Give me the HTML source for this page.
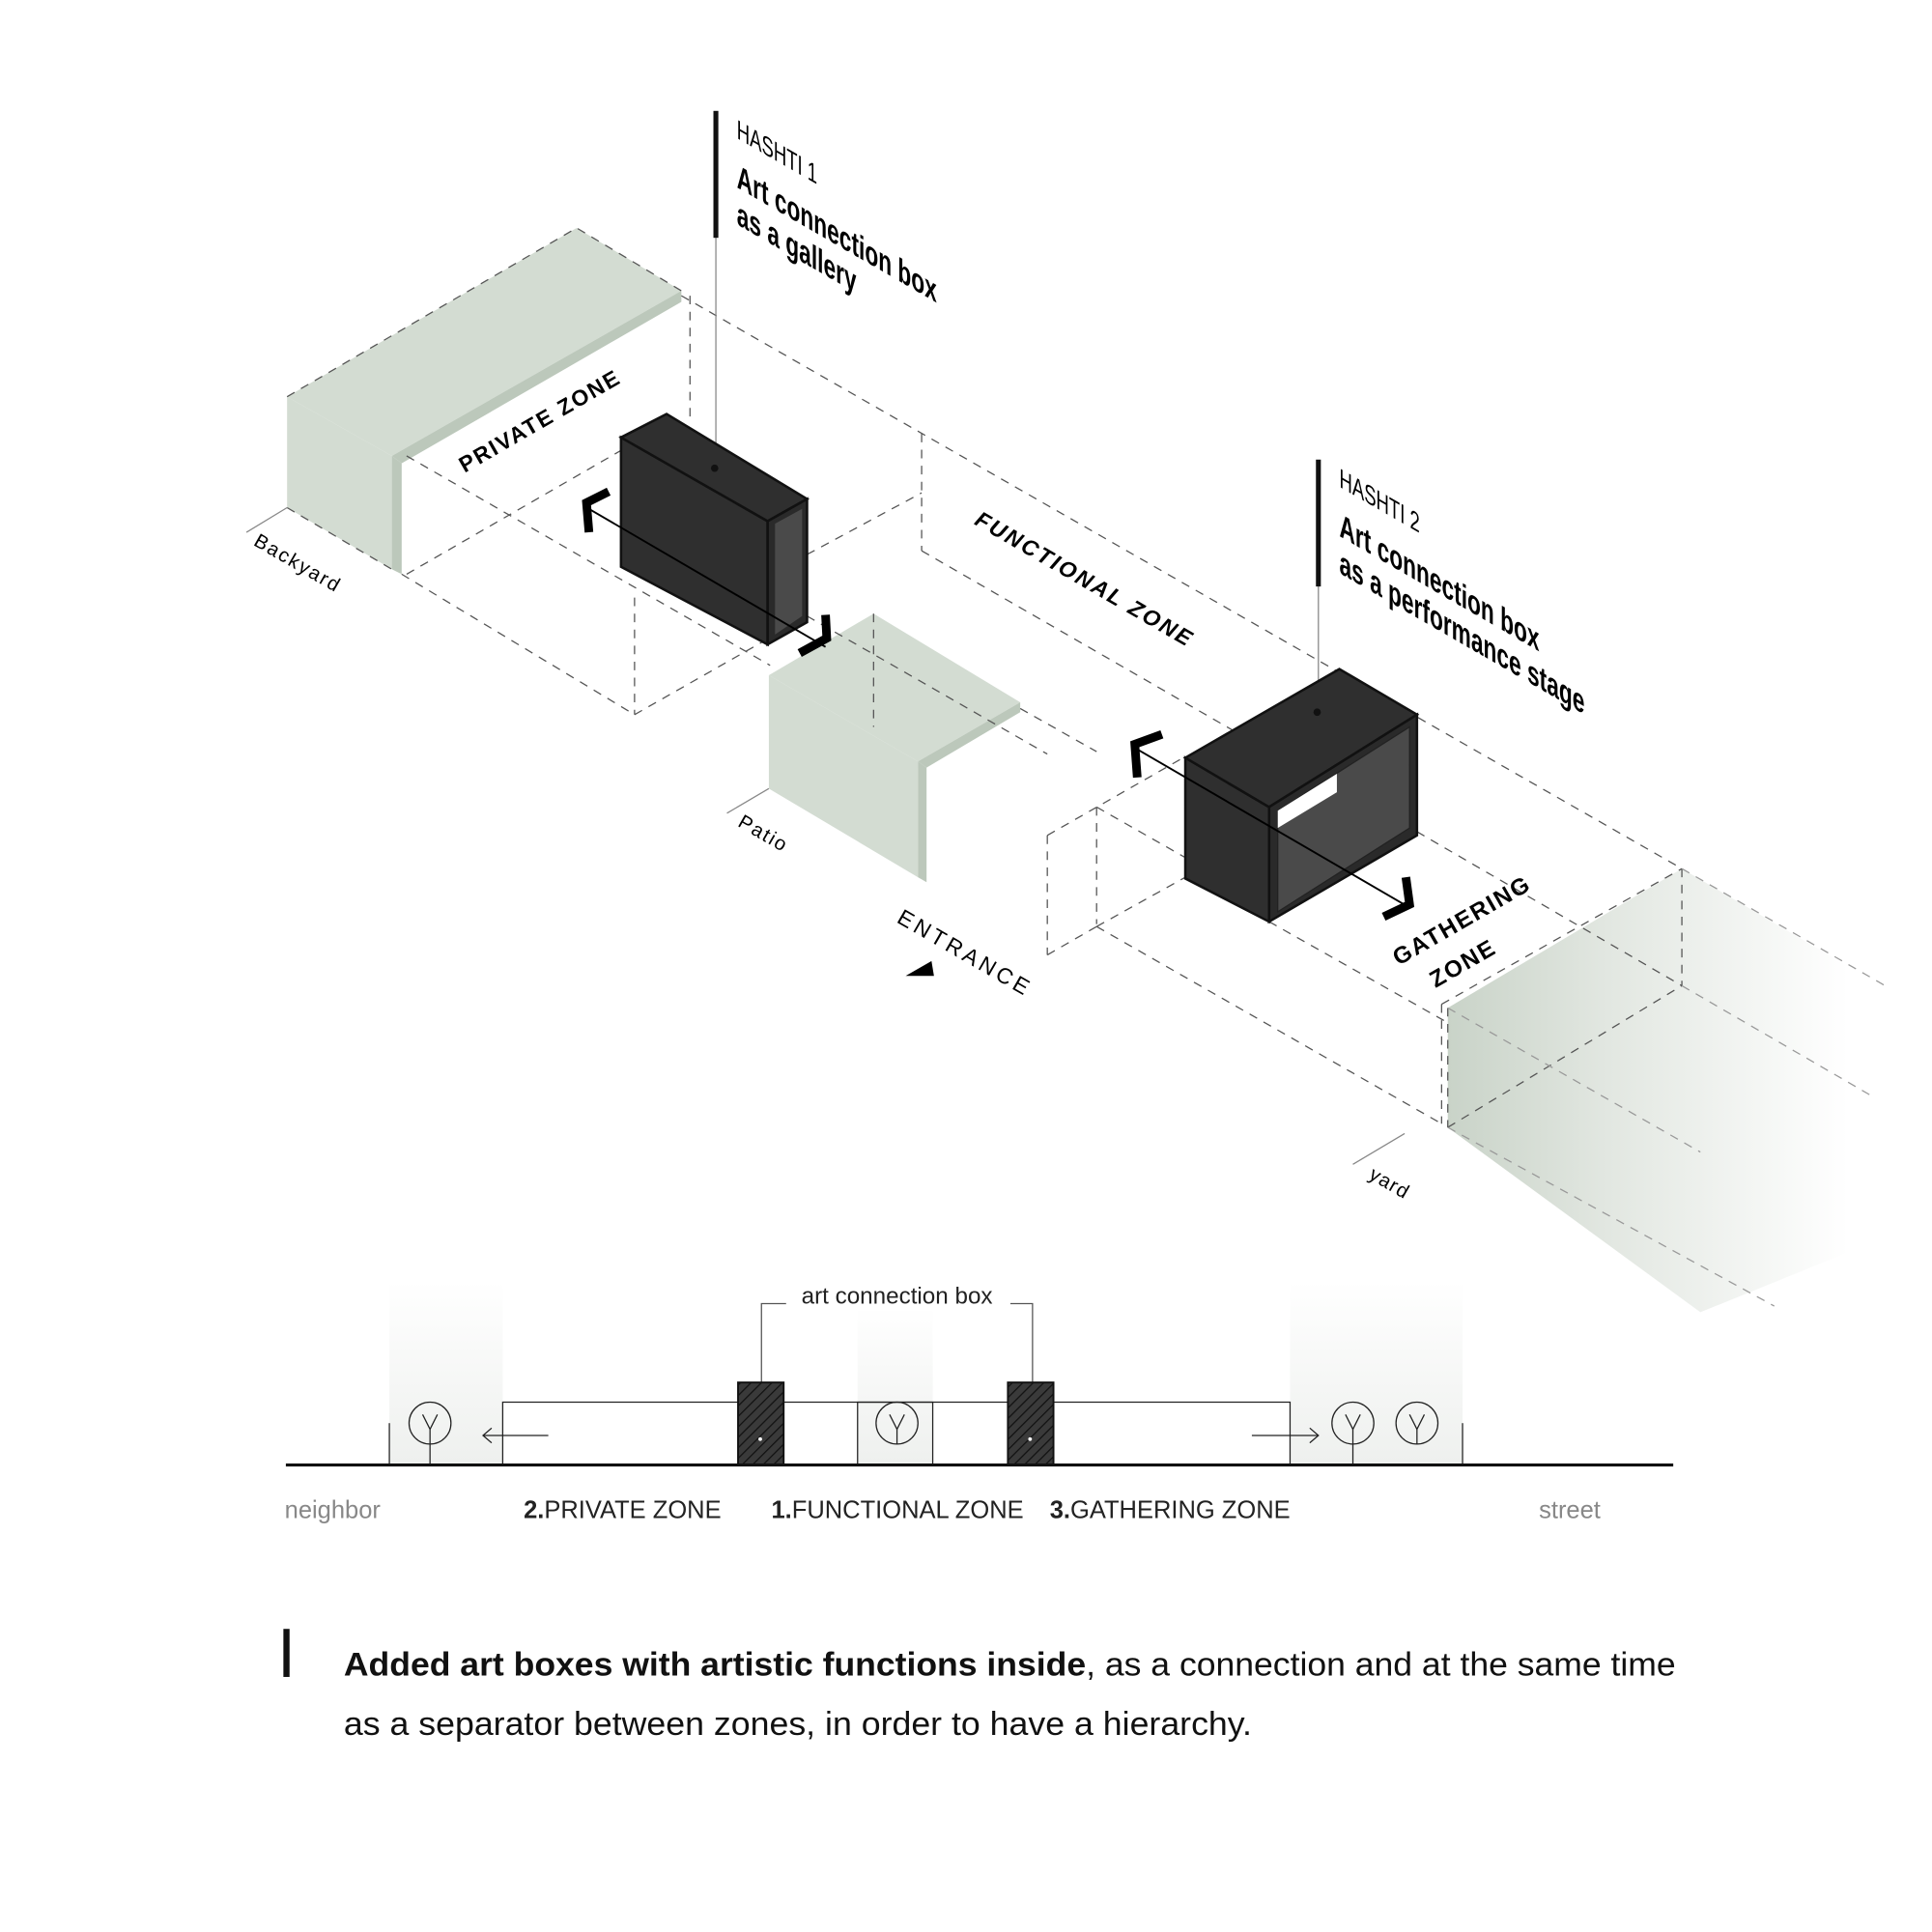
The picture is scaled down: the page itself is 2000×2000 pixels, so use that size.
<!DOCTYPE html>
<html><head><meta charset="utf-8"><style>
html,body{margin:0;padding:0;background:#fff;}
svg{display:block;}
text{font-family:"Liberation Sans",sans-serif;}
</style></head><body>
<svg width="2000" height="2000" viewBox="0 0 1568 1568" xmlns="http://www.w3.org/2000/svg">
<defs>
<linearGradient id="yg" x1="1175" y1="0" x2="1500" y2="0" gradientUnits="userSpaceOnUse">
<stop offset="0" stop-color="#c9d3c8"/><stop offset="0.4" stop-color="#e2e7e1"/><stop offset="1" stop-color="#ffffff"/></linearGradient>
<linearGradient id="cg" x1="0" y1="1" x2="0" y2="0"><stop offset="0" stop-color="#eef0ee"/><stop offset="1" stop-color="#ffffff"/></linearGradient>
<pattern id="hat" width="6" height="6" patternUnits="userSpaceOnUse" patternTransform="rotate(45)"><rect width="6" height="6" fill="#3a3a3a"/><line x1="0" y1="0" x2="0" y2="6" stroke="#111" stroke-width="2"/></pattern>
</defs>
<rect width="1568" height="1568" fill="#fff"/>

<polygon points="1175,818 1365,705 1540,808 1540,1000 1380,1065 1175,915" fill="url(#yg)"/>

<polygon points="233,322 468,185 553,236 318,370" fill="#d3dcd2"/>
<polygon points="318,370 553,236 553,245 326,376" fill="#bcc8bb"/>
<polygon points="233,322 318,370 318,462 233,412" fill="#d3dcd2"/>
<polygon points="318,370 326,376 326,466 318,462" fill="#bcc8bb"/>
<polygon points="624,548 709,498 828,570 745,618" fill="#d3dcd2"/>
<polygon points="745,618 828,570 828,578 752,623" fill="#bcc8bb"/>
<polygon points="624,548 745,618 745,712 624,640" fill="#d3dcd2"/>
<polygon points="745,618 752,623 752,716 745,712" fill="#bcc8bb"/>

<g stroke="#555" stroke-width="1" stroke-dasharray="7,6" fill="none">
<polyline points="233,322 468,185 553,236"/>
<line x1="233" y1="412" x2="318" y2="462"/>
<line x1="553" y1="240" x2="1365" y2="705"/>
<line x1="330" y1="370" x2="625" y2="540"/>
<line x1="326" y1="466" x2="515" y2="580"/>
<line x1="515" y1="580" x2="624" y2="518"/>
<line x1="330" y1="466" x2="505" y2="365"/>
<line x1="560" y1="240" x2="560" y2="340"/>
<line x1="748" y1="352" x2="748" y2="447"/>
<line x1="515" y1="485" x2="515" y2="580"/>
<line x1="709" y1="498" x2="709" y2="590"/>
<line x1="655" y1="450" x2="748" y2="400"/>
<line x1="748" y1="447" x2="1060" y2="627"/>
<line x1="655" y1="500" x2="850" y2="612"/>
<line x1="828" y1="575" x2="890" y2="610"/>
<line x1="850" y1="678" x2="850" y2="775"/>
<line x1="890" y1="655" x2="890" y2="750"/>
<line x1="850" y1="678" x2="962" y2="614"/>
<line x1="850" y1="775" x2="890" y2="752"/>
<line x1="890" y1="752" x2="962" y2="712"/>
<line x1="890" y1="752" x2="1170" y2="912"/>
<line x1="890" y1="655" x2="962" y2="696"/>
<line x1="1150" y1="675" x2="1365" y2="800"/>
<line x1="1170" y1="815" x2="1365" y2="705"/>
<line x1="1170" y1="815" x2="1170" y2="912"/>
<line x1="1175" y1="915" x2="1365" y2="800"/>
<line x1="1365" y1="705" x2="1365" y2="800"/>
<line x1="1175" y1="818" x2="1175" y2="915"/>
<line x1="1030" y1="748" x2="1175" y2="830"/>
</g>
<g stroke="#999" stroke-width="1" stroke-dasharray="7,6" fill="none">
<line x1="1365" y1="705" x2="1530" y2="800"/>
<line x1="1365" y1="800" x2="1520" y2="890"/>
<line x1="1175" y1="915" x2="1440" y2="1060"/>
<line x1="1175" y1="818" x2="1380" y2="935"/>
</g>
<g stroke="#888" stroke-width="1">
<line x1="200" y1="432" x2="233" y2="412"/>
<line x1="590" y1="660" x2="624" y2="640"/>
<line x1="1098" y1="945" x2="1140" y2="920"/>
<line x1="581" y1="192" x2="581" y2="380"/>
<line x1="1070" y1="475" x2="1070" y2="578"/>
</g>

<polygon points="504,355 623,423 623,523 504,460" fill="#2f2f2f" stroke="#111" stroke-width="2"/>
<polygon points="504,355 541,336 655,405 623,423" fill="#2f2f2f" stroke="#111" stroke-width="2"/>
<polygon points="623,423 655,405 655,505 623,523" fill="#2a2a2a" stroke="#111" stroke-width="2"/>
<polygon points="629,425 651,413 651,500 629,515" fill="#4a4a4a"/>
<circle cx="580" cy="380" r="3" fill="#111"/>
<polygon points="962,615 1030,655 1030,748 962,713" fill="#2f2f2f" stroke="#111" stroke-width="2"/>
<polygon points="962,615 1087,543 1150,580 1030,655" fill="#2f2f2f" stroke="#111" stroke-width="2"/>
<polygon points="1030,655 1150,580 1150,678 1030,748" fill="#2a2a2a" stroke="#111" stroke-width="2"/>
<polygon points="1037,658 1144,590 1144,672 1037,740" fill="#4a4a4a" stroke="#222"/>
<polygon points="1037,658 1085,628 1085,643 1037,672" fill="#fff"/>
<circle cx="1069" cy="578" r="3" fill="#111"/>

<g stroke="#000" fill="none">
<line x1="478" y1="413" x2="670" y2="525" stroke-width="1.5"/>
<polyline points="494,399 476,408 478,432" stroke-width="7"/>
<polyline points="649,530 671,518 670,499" stroke-width="7"/>
<line x1="921" y1="607" x2="1143" y2="736" stroke-width="1.5"/>
<polyline points="943,596 921,604 923,631" stroke-width="7"/>
<polyline points="1123,744 1144,734 1141,712" stroke-width="7"/>
</g>
<polygon points="735,792 758,792 756,780" fill="#000"/>

<text transform="translate(377,384) rotate(-30)" font-size="18" font-weight="bold" letter-spacing="1.5">PRIVATE ZONE</text>
<text transform="translate(790,425) rotate(30)" font-size="18" font-weight="bold" font-style="italic" letter-spacing="2">FUNCTIONAL ZONE</text>
<text transform="translate(1135,784) rotate(-30)" font-size="19" font-weight="bold" letter-spacing="1.5">GATHERING</text>
<text transform="translate(1165,802) rotate(-30)" font-size="19" font-weight="bold" letter-spacing="1.5">ZONE</text>
<text transform="translate(205,442) rotate(30)" font-size="16" letter-spacing="1.5">Backyard</text>
<text transform="translate(598,670) rotate(30)" font-size="16" letter-spacing="1.5">Patio</text>
<text transform="translate(727,748) rotate(30)" font-size="18" letter-spacing="3">ENTRANCE</text>
<text transform="translate(1110,956) rotate(30)" font-size="16" letter-spacing="1">yard</text>

<rect x="579" y="90" width="4" height="103" fill="#111"/>
<g transform="translate(598,112) skewY(30) scale(0.66,1)">
<text x="0" y="0" font-size="22">HASHTI 1</text>
<text x="0" y="40" font-size="27" font-weight="bold">Art connection box</text>
<text x="0" y="70" font-size="27" font-weight="bold">as a gallery</text>
</g>
<rect x="1068" y="373" width="4" height="103" fill="#111"/>
<g transform="translate(1087,395) skewY(30) scale(0.66,1)">
<text x="0" y="0" font-size="22">HASHTI 2</text>
<text x="0" y="40" font-size="27" font-weight="bold">Art connection box</text>
<text x="0" y="70" font-size="27" font-weight="bold">as a performance stage</text>
</g>

<rect x="316" y="1040" width="92" height="149" fill="url(#cg)"/>
<rect x="696" y="1060" width="61" height="129" fill="url(#cg)"/>
<rect x="1047" y="1040" width="140" height="149" fill="url(#cg)"/>
<g stroke="#222" stroke-width="1" fill="none">
<polyline points="408,1189 408,1138 1047,1138 1047,1189"/>
<rect x="696" y="1138" width="61" height="51"/>
<line x1="316" y1="1155" x2="316" y2="1189"/>
<line x1="1187" y1="1155" x2="1187" y2="1189"/>
<polyline points="618,1122 618,1058 838,1058 838,1122" stroke="#555"/>
<line x1="392" y1="1165" x2="445" y2="1165"/>
<polyline points="399,1159 392,1165 399,1171"/>
<line x1="1016" y1="1165" x2="1070" y2="1165"/>
<polyline points="1063,1159 1070,1165 1063,1171"/>
<circle cx="349" cy="1155" r="17"/><polyline points="343,1148 349,1160 355,1148"/><line x1="349" y1="1160" x2="349" y2="1189"/>
<circle cx="728" cy="1155" r="17"/><polyline points="722,1148 728,1160 734,1148"/><line x1="728" y1="1160" x2="728" y2="1172"/>
<circle cx="1098" cy="1155" r="17"/><polyline points="1092,1148 1098,1160 1104,1148"/><line x1="1098" y1="1160" x2="1098" y2="1189"/>
<circle cx="1150" cy="1155" r="17"/><polyline points="1144,1148 1150,1160 1156,1148"/><line x1="1150" y1="1160" x2="1150" y2="1172"/>
</g>
<rect x="638" y="1040" width="182" height="24" fill="#fff"/>
<text x="728" y="1058" font-size="19" text-anchor="middle" fill="#222">art  connection box</text>
<rect x="599" y="1122" width="37" height="67" fill="url(#hat)" stroke="#111" stroke-width="1.5"/>
<rect x="818" y="1122" width="37" height="67" fill="url(#hat)" stroke="#111" stroke-width="1.5"/>
<circle cx="617" cy="1168" r="1.5" fill="#fff"/><circle cx="836" cy="1168" r="1.5" fill="#fff"/>
<line x1="232" y1="1189" x2="1358" y2="1189" stroke="#111" stroke-width="2.5"/>

<g font-size="20">
<text x="231" y="1232" fill="#888">neighbor</text>
<text x="425" y="1232" fill="#222"><tspan font-weight="bold">2.</tspan>PRIVATE ZONE</text>
<text x="626" y="1232" fill="#222"><tspan font-weight="bold">1.</tspan>FUNCTIONAL  ZONE</text>
<text x="852" y="1232" fill="#222"><tspan font-weight="bold">3.</tspan>GATHERING  ZONE</text>
<text x="1249" y="1232" fill="#888">street</text>
</g>

<rect x="230" y="1322" width="5" height="39" fill="#111"/>
<text x="279" y="1360" font-size="27" fill="#111" textLength="1081" lengthAdjust="spacingAndGlyphs"><tspan font-weight="bold">Added art boxes with artistic functions inside</tspan>, as a connection and at the same time</text>
<text x="279" y="1408" font-size="27" fill="#111" textLength="737" lengthAdjust="spacingAndGlyphs">as a separator between zones, in order to have a hierarchy.</text>
</svg>
</body></html>
